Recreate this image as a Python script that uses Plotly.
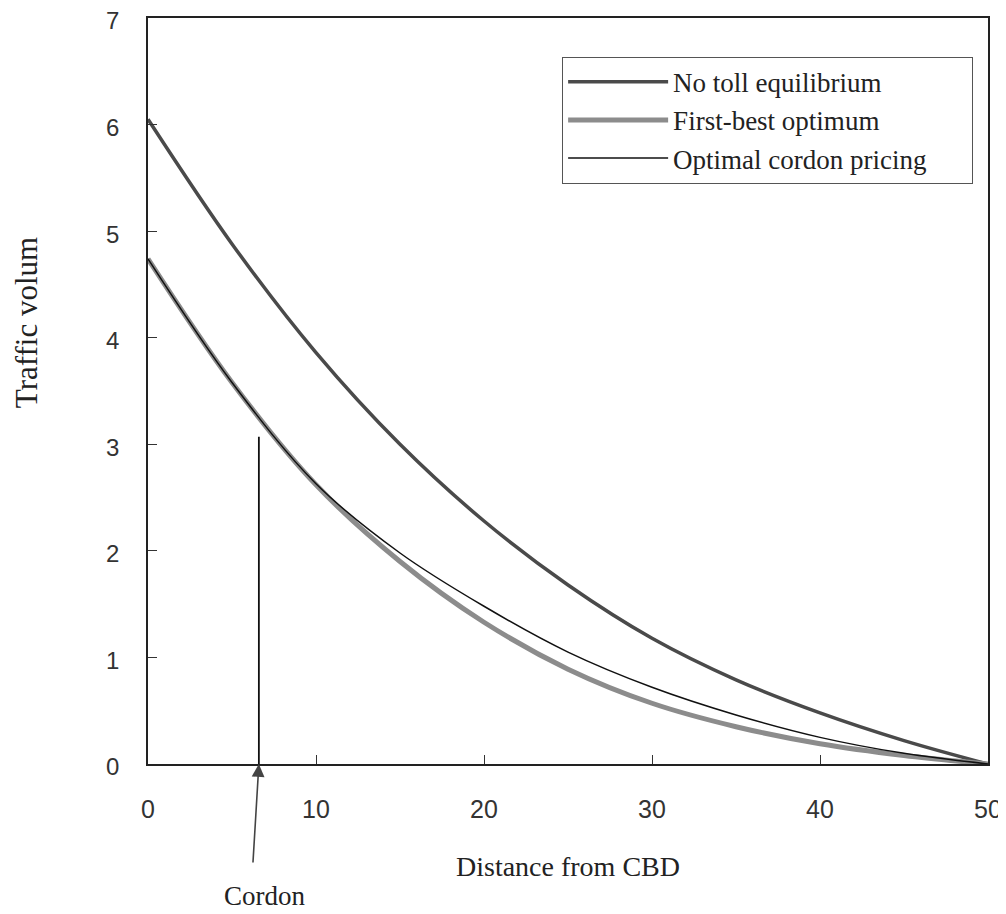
import plotly.graph_objects as go

# Distance from CBD (x) and traffic volume series
distance = [0, 5, 10, 15, 20, 25, 30, 35, 40, 45, 50]
no_toll = [6.05, 4.88, 3.86, 3.00, 2.28, 1.68, 1.18, 0.79, 0.48, 0.22, 0.0]
first_best = [4.74, 3.58, 2.62, 1.90, 1.33, 0.89, 0.57, 0.35, 0.19, 0.08, 0.0]
cordon_pricing = [4.74, 3.58, 2.63, 1.98, 1.48, 1.05, 0.72, 0.46, 0.25, 0.10, 0.0]

cordon_location = 6.6
cordon_marker_height = 3.07

x_ticks = [0, 10, 20, 30, 40, 50]
y_ticks = [0, 1, 2, 3, 4, 5, 6, 7]

serif = "Liberation Serif, Times New Roman, serif"
sans = "Liberation Sans, Arial, sans-serif"

fig = go.Figure()
fig.add_trace(go.Scatter(x=distance, y=no_toll, mode="lines", name="No toll equilibrium",
                         line=dict(color="#4a4a4a", width=3.5, shape="spline"), legendgroup="a"))
fig.add_trace(go.Scatter(x=distance, y=first_best, mode="lines", name="First-best optimum",
                         line=dict(color="#8c8c8c", width=5, shape="spline"), legendgroup="b"))
fig.add_trace(go.Scatter(x=distance, y=cordon_pricing, mode="lines",
                         name="Optimal cordon pricing\u00a0\u00a0\u00a0\u00a0\u00a0\u00a0",
                         line=dict(color="#111111", width=1.5, shape="spline"), legendgroup="c"))

fig.add_shape(type="line", xref="x", yref="y", x0=cordon_location, x1=cordon_location,
              y0=0, y1=cordon_marker_height, line=dict(color="#111111", width=1.8))

fig.add_annotation(x=cordon_location, y=0, xref="x", yref="y", ax=-6, ay=100,
                   showarrow=True, arrowhead=2, arrowsize=1.6, arrowwidth=1.6,
                   arrowcolor="#444444", text="")
fig.add_annotation(x=cordon_location, y=0, xref="x", yref="y", xshift=6, yshift=-132,
                   showarrow=False, text="Cordon", font=dict(family=serif, size=27, color="#222222"))

fig.add_annotation(x=-0.1452, y=0.591, xref="paper", yref="paper", xanchor="center", yanchor="middle",
                   showarrow=False, text="Traffic volum", textangle=-90,
                   font=dict(family=serif, size=31, color="#222222"))

fig.update_layout(
    width=998, height=906,
    margin=dict(l=140, r=18, t=10, b=150, autoexpand=False),
    paper_bgcolor="white", plot_bgcolor="white",
    showlegend=True,
    legend=dict(x=0.493, y=0.948, xanchor="left", yanchor="top",
                bordercolor="#555555", borderwidth=1, bgcolor="white",
                font=dict(family=serif, size=27, color="#222222"),
                itemwidth=100, tracegroupgap=6, traceorder="normal"),
    font=dict(family=serif, color="#222222"),
)
fig.update_xaxes(range=[0, 50], tickvals=x_ticks, ticks="inside", ticklen=9, tickcolor="#333",
                 showline=True, linecolor="#222", linewidth=1.5, mirror=True, showgrid=False, zeroline=False,
                 automargin=False, ticklabeloverflow="allow",
                 tickfont=dict(family=sans, size=25, color="#333"), ticklabelstandoff=22,
                 title=dict(text="Distance from CBD", font=dict(family=serif, size=28, color="#222"), standoff=35))
fig.update_yaxes(range=[0, 7], tickvals=y_ticks, ticks="inside", ticklen=9, tickcolor="#333",
                 showline=True, linecolor="#222", linewidth=1.5, mirror=True, showgrid=False, zeroline=False,
                 automargin=False, ticklabeloverflow="allow", ticklabelshift=3,
                 tickfont=dict(family=sans, size=24, color="#333"), ticklabelstandoff=22)

fig.write_html("out.html")
